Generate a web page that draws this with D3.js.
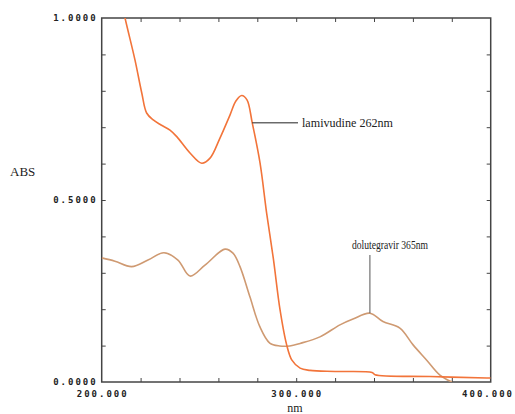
<!DOCTYPE html>
<html><head><meta charset="utf-8">
<script src="https://cdn.jsdelivr.net/npm/d3@7"></script>
<style>
html,body{margin:0;padding:0;background:#fff;}
svg{display:block;}
.tick-lab{font-family:"DejaVu Sans Mono",monospace;font-weight:bold;font-size:9px;letter-spacing:2px;fill:#222;}
.serif{font-family:"Liberation Serif","Times New Roman",serif;fill:#222;}
</style></head>
<body>
<script>
// Data (wavelength nm, absorbance)
const lamivudineNm  = [208,212.0,217.1,220.6,223.1,226.5,230.5,235.1,238.6,245.4,251.4,255.7,260.8,266.0,269.0,272.0,274.7,277.4,281.4,284.8,288.2,291.7,295.1,297.8,302.0,307.1,320.0,339.0,340.5,368.8,398.0,400];
const lamivudineAbs = [1.10,1.000,0.885,0.794,0.739,0.720,0.706,0.692,0.674,0.629,0.601,0.615,0.670,0.734,0.772,0.787,0.775,0.712,0.602,0.464,0.341,0.198,0.102,0.060,0.038,0.032,0.029,0.026,0.020,0.015,0.011,0.011];
const dolutegravirNm  = [200,206.8,215.4,223.8,232.0,239.2,245.4,253.1,263.4,267.5,271.1,276.2,281.3,286.4,291.5,296.7,302.0,312.2,322.5,329.2,337.9,344.6,353.3,360.1,367.1,373.9,380.1];
const dolutegravirAbs = [0.341,0.332,0.317,0.335,0.355,0.335,0.291,0.321,0.365,0.354,0.317,0.234,0.152,0.107,0.099,0.099,0.106,0.124,0.157,0.173,0.189,0.166,0.148,0.102,0.060,0.019,0.0];
const xTickLabels = ["200.000","300.000","400.000"];
const yTickLabels = ["0.0000","0.5000","1.0000"];
const xLabelValues = [200,300,400];
const yLabelValues = [0,0.5,1.0];
const annotations = [
  {text:"lamivudine 262nm", nm:277.4, abs:0.712},
  {text:"dolutegravir 365nm", nm:337.9, abs:0.189}
];

const W=515,H=414;
const L=101.7,R=490.7,T=18,B=382;
const svg=d3.select("body").append("svg").attr("width",W).attr("height",H);
const x=d3.scaleLinear().domain([200,400]).range([L,R]);
const y=d3.scaleLinear().domain([0,1]).range([B,T]);

svg.append("defs").append("clipPath").attr("id","clip")
  .append("rect").attr("x",L).attr("y",T).attr("width",R-L).attr("height",B-T);

const axisColor="#444";
// axes with inward ticks
const minorX=d3.range(220,400,20);
const yTicks=d3.range(1,10).map(d=>d/10);
svg.append("g").attr("transform",`translate(0,${B})`)
  .call(d3.axisTop(x).tickValues(minorX).tickSize(4).tickFormat(""))
  .call(g=>{g.select(".domain").remove();g.selectAll("line").attr("stroke",axisColor);});
svg.append("g").attr("transform",`translate(0,${T})`)
  .call(d3.axisBottom(x).tickValues(minorX).tickSize(4).tickFormat(""))
  .call(g=>{g.select(".domain").remove();g.selectAll("line").attr("stroke",axisColor);});
svg.append("g").attr("transform",`translate(${L},0)`)
  .call(d3.axisRight(y).tickValues(yTicks).tickSize(4).tickFormat(""))
  .call(g=>{g.select(".domain").remove();g.selectAll("line").attr("stroke",axisColor);});
svg.append("g").attr("transform",`translate(${R},0)`)
  .call(d3.axisLeft(y).tickValues(yTicks).tickSize(4).tickFormat(""))
  .call(g=>{g.select(".domain").remove();g.selectAll("line").attr("stroke",axisColor);});

svg.append("rect").attr("x",L).attr("y",T).attr("width",R-L).attr("height",B-T)
  .attr("fill","none").attr("stroke",axisColor).attr("stroke-width",1.5);

// tick labels
svg.selectAll(".ylab").data(yLabelValues).enter().append("text")
  .attr("class","tick-lab").attr("x",L-4).attr("y",d=>y(d)+3)
  .attr("text-anchor","end").text((d,i)=>yTickLabels[i]);
svg.selectAll(".xlab").data(xLabelValues).enter().append("text")
  .attr("class","tick-lab").attr("x",d=>d===400?514:x(d)+1).attr("y",B+15)
  .attr("text-anchor",d=>d===400?"end":"middle").text((d,i)=>xTickLabels[i]);

svg.append("text").attr("class","serif").attr("x",10).attr("y",176).attr("font-size",13).text("ABS");
svg.append("text").attr("class","serif").attr("x",295).attr("y",412).attr("font-size",12).attr("text-anchor","middle").text("nm");

const line=d3.line().x(d=>x(d[0])).y(d=>y(d[1])).curve(d3.curveCatmullRom.alpha(0.5));
const gC=svg.append("g").attr("clip-path","url(#clip)");
gC.append("path").datum(d3.zip(dolutegravirNm,dolutegravirAbs))
  .attr("d",line).attr("fill","none").attr("stroke","#cf9a72").attr("stroke-width",1.6);
gC.append("path").datum(d3.zip(lamivudineNm,lamivudineAbs))
  .attr("d",line).attr("fill","none").attr("stroke","#f2743a").attr("stroke-width",1.6);

// annotations
const a0=annotations[0];
svg.append("line").attr("x1",x(a0.nm)).attr("y1",y(a0.abs)).attr("x2",298).attr("y2",y(a0.abs))
  .attr("stroke","#222").attr("stroke-width",1);
svg.append("text").attr("class","serif").attr("x",302).attr("y",y(a0.abs)+4).attr("font-size",13)
  .attr("textLength",91).attr("lengthAdjust","spacingAndGlyphs").text(a0.text);
const a1=annotations[1];
svg.append("line").attr("x1",x(a1.nm)).attr("y1",y(a1.abs)).attr("x2",x(a1.nm)).attr("y2",255)
  .attr("stroke","#555").attr("stroke-width",1);
svg.append("text").attr("class","serif").attr("x",352).attr("y",249).attr("font-size",13)
  .attr("textLength",76).attr("lengthAdjust","spacingAndGlyphs").text(a1.text);
</script>
</body></html>
